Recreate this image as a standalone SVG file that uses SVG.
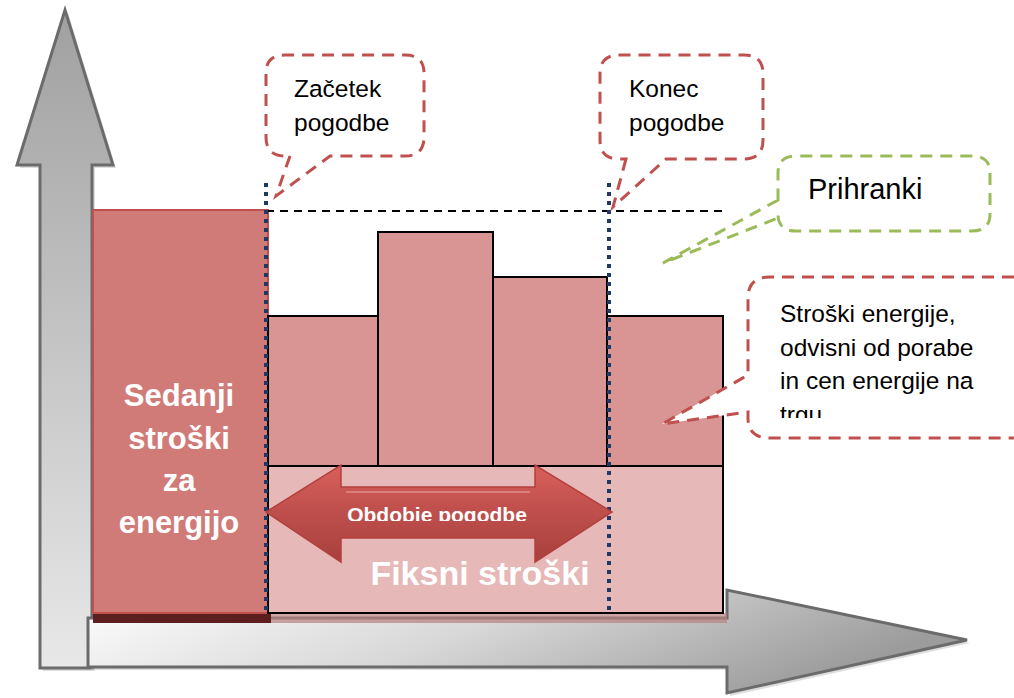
<svg xmlns="http://www.w3.org/2000/svg" width="1014" height="698" viewBox="0 0 1014 698">
<style>
.axis{stroke:#6b6b6b;stroke-width:3;stroke-linejoin:miter}
.bar{fill:#d99594;stroke:#000;stroke-width:2}
.fixed{fill:#e6b8b7;stroke:#000;stroke-width:2}
.redc{fill:#fff;stroke:#c0504d;stroke-width:3;stroke-dasharray:12,8}
.grnc{fill:#fff;stroke:#9bbb59;stroke-width:3;stroke-dasharray:12,8}
.lbl{font-family:"Liberation Sans",Arial,sans-serif;font-size:24.5px;fill:#000}
.big{font-size:29px}
.wht{font-family:"Liberation Sans",Arial,sans-serif;font-weight:bold;fill:#fff;text-anchor:middle}
.dot{stroke:#1f3864;stroke-width:4;stroke-dasharray:4,5;fill:none}
</style>
<defs>
<linearGradient id="gv" x1="0" y1="0" x2="0" y2="1">
<stop offset="0" stop-color="#a0a0a0"/><stop offset="1" stop-color="#e8e8e8"/>
</linearGradient>
<linearGradient id="gh" x1="0" y1="0" x2="1" y2="0.3">
<stop offset="0" stop-color="#ffffff"/><stop offset="0.5" stop-color="#d8d8d8"/><stop offset="1" stop-color="#9c9c9c"/>
</linearGradient>
<linearGradient id="gr" x1="0" y1="0" x2="0" y2="1">
<stop offset="0" stop-color="#d9605c"/><stop offset="0.45" stop-color="#c0504d"/><stop offset="1" stop-color="#a8403d"/>
</linearGradient>
<clipPath id="clipT"><rect x="750" y="280" width="264" height="138"/></clipPath>
<clipPath id="clipO"><rect x="300" y="490" width="280" height="31"/></clipPath>
</defs>

<g id="y-axis">
<path d="M68,13 L116,168 L95,168 L95,671 L43,671 L43,168 L20,168 Z" fill="#bbb" opacity="0.5"/>
<path class="axis" d="M65,10 L113,165 L92,165 L92,668 L40,668 L40,165 L17,165 Z" fill="url(#gv)"/>
</g>
<g id="x-axis">
<path d="M91,621 L730,621 L730,593 L970,643 L730,696 L730,670 L91,670 Z" fill="#bbb" opacity="0.5"/>
<path class="axis" d="M88,618 L727,618 L727,590 L967,640 L727,693 L727,667 L88,667 Z" fill="url(#gh)"/>
</g>

<g id="sedanji">
<rect x="93" y="613" width="178" height="10" fill="#5c1e1e"/>
<rect x="93" y="210" width="175" height="403" fill="#d07b78" stroke="#c0504d" stroke-width="2"/>
<text class="wht" font-size="31"><tspan x="179" y="406">Sedanji</tspan><tspan x="179" y="449">stroški</tspan><tspan x="179" y="491">za</tspan><tspan x="179" y="533">energijo</tspan></text>
</g>

<g id="bars">
<rect class="bar" x="268" y="316" width="110" height="150"/>
<rect class="bar" x="378" y="232" width="115" height="234"/>
<rect class="bar" x="493" y="277" width="114" height="189"/>
<rect class="bar" x="607" y="316" width="116" height="150"/>
</g>

<g id="fiksni">
<rect x="271" y="613" width="456" height="10" fill="#b88080" opacity="0.7"/>
<rect class="fixed" x="268" y="466" width="455" height="147"/>
<text class="wht" font-size="34" x="480" y="585">Fiksni stroški</text>
</g>

<g id="connectors">
<line x1="266" y1="211" x2="722" y2="211" stroke="#000" stroke-width="2" stroke-dasharray="8,6"/>
<line class="dot" x1="266" y1="183" x2="266" y2="613"/>
<line class="dot" x1="609" y1="183" x2="609" y2="613"/>
</g>

<g id="obdobje">
<path d="M266,512 L341,465 L341,487 L535,487 L535,465 L612,512 L535,562 L535,538 L341,538 L341,562 Z" fill="url(#gr)" stroke="#b3403d" stroke-width="1.5"/>
<path d="M346,492 L530,492" stroke="#e89c99" stroke-width="2" opacity="0.6"/>
<g clip-path="url(#clipO)"><text class="wht" font-size="21" x="437" y="522">Obdobje pogodbe</text></g>
</g>

<g id="callout-zacetek">
<path class="redc" d="M290,156 L276,196 L330,156 L405,156 Q424,156 424,137 L424,73 Q424,55 405,55 L285,55 Q266,55 266,73 L266,137 Q266,156 285,156 Z"/>
<text class="lbl"><tspan x="294" y="97">Začetek</tspan><tspan x="294" y="131">pogodbe</tspan></text>
</g>

<g id="callout-konec">
<path class="redc" d="M626,159 L613,207 L666,159 L744,159 Q763,159 763,140 L763,74 Q763,55 744,55 L619,55 Q600,55 600,74 L600,140 Q600,159 619,159 Z"/>
<text class="lbl"><tspan x="629" y="97">Konec</tspan><tspan x="629" y="131">pogodbe</tspan></text>
</g>

<g id="callout-prihranki">
<path class="grnc" d="M778,200 L663,263 L778,218 L778,214 Q778,231 796,231 L972,231 Q990,231 990,214 L990,173 Q990,156 972,156 L796,156 Q778,156 778,173 Z"/>
<text class="lbl big" x="808" y="199">Prihranki</text>
</g>

<g id="callout-stroski">
<path class="redc" d="M1014,277 L770,277 Q748,277 748,298 L748,375 L662,424 L748,412 L748,418 Q748,438 770,438 L1014,438"/>
<g clip-path="url(#clipT)"><text class="lbl"><tspan x="780" y="322">Stroški energije,</tspan><tspan x="780" y="356">odvisni od porabe</tspan><tspan x="780" y="389">in cen energije na</tspan><tspan x="780" y="423">trgu</tspan></text></g>
</g>
</svg>
